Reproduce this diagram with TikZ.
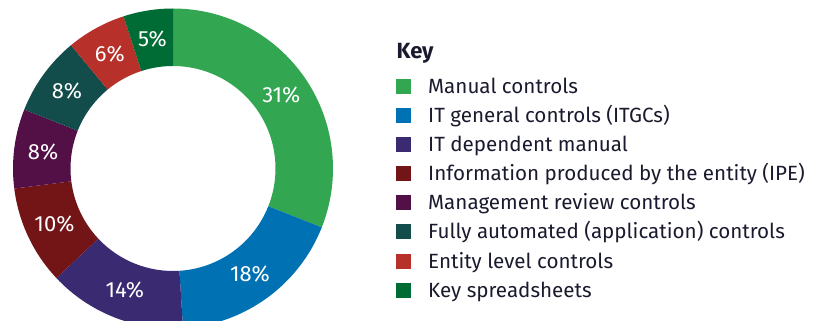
\documentclass[tikz,border=0pt]{standalone}
\usepackage{fontspec}
\setmainfont{Fira Sans}
\usepackage{tikz}
\usetikzlibrary{positioning}

\definecolor{manualc}{RGB}{51,166,82}
\definecolor{itgcc}{RGB}{0,113,179}
\definecolor{itdepc}{RGB}{58,42,114}
\definecolor{ipec}{RGB}{115,20,22}
\definecolor{mgmtc}{RGB}{82,16,71}
\definecolor{autoc}{RGB}{18,77,75}
\definecolor{entityc}{RGB}{184,48,42}
\definecolor{sheetc}{RGB}{0,108,53}
\definecolor{keytext}{RGB}{26,26,46}

\tikzset{
	pct/.style={text=white, inner sep=0pt, font=\fontsize{22}{22}\selectfont},
	keybox/.style={minimum size=15pt, inner sep=0pt},
	keytxt/.style={anchor=base west, inner sep=0pt, text=keytext, font=\fontsize{20.6}{21}\selectfont},
}

\begin{document}
\begin{tikzpicture}[x=1pt, y=1pt]
		\useasboundingbox (0, 0) rectangle (815, -321);
		% donut, clockwise from the top
		\begin{scope}[shift={(173, -168.5)}]
		\fill[manualc] (90:160) arc[start angle=90, end angle=-21.6, radius=160] -- (-21.6:102.5) arc[start angle=-21.6, end angle=90, radius=102.5] -- cycle;
		\fill[itgcc] (-21.6:160) arc[start angle=-21.6, end angle=-86.4, radius=160] -- (-86.4:102.5) arc[start angle=-86.4, end angle=-21.6, radius=102.5] -- cycle;
		\fill[itdepc] (-86.4:160) arc[start angle=-86.4, end angle=-136.8, radius=160] -- (-136.8:102.5) arc[start angle=-136.8, end angle=-86.4, radius=102.5] -- cycle;
		\fill[ipec] (-136.8:160) arc[start angle=-136.8, end angle=-172.8, radius=160] -- (-172.8:102.5) arc[start angle=-172.8, end angle=-136.8, radius=102.5] -- cycle;
		\fill[mgmtc] (-172.8:160) arc[start angle=-172.8, end angle=-201.6, radius=160] -- (-201.6:102.5) arc[start angle=-201.6, end angle=-172.8, radius=102.5] -- cycle;
		\fill[autoc] (-201.6:160) arc[start angle=-201.6, end angle=-230.4, radius=160] -- (-230.4:102.5) arc[start angle=-230.4, end angle=-201.6, radius=102.5] -- cycle;
		\fill[entityc] (-230.4:160) arc[start angle=-230.4, end angle=-252, radius=160] -- (-252:102.5) arc[start angle=-252, end angle=-230.4, radius=102.5] -- cycle;
		\fill[sheetc] (-252:160) arc[start angle=-252, end angle=-270, radius=160] -- (-270:102.5) arc[start angle=-270, end angle=-252, radius=102.5] -- cycle;
		\node[pct] (pmanual) at (34.2:131) {31\%};
		\node[pct] (pitgc) at (-54:131) {18\%};
		\node[pct] (pitdep) at (-111.6:131) {14\%};
		\node[pct] (pipe) at (-154.8:131) {10\%};
		\node[pct] (pmgmt) at (-187.2:131) {8\%};
		\node[pct] (pauto) at (-216:131) {8\%};
		\node[pct] (pentity) at (-241.2:131) {6\%};
		\node[pct] (psheet) at (-261:131) {5\%};
		\end{scope}
		% key
		\node[keytxt, font=\bfseries\fontsize{22}{22}\selectfont] (key) at (396.5, -58.5) {Key};
		\node[keybox, fill=manualc] (kmanual) at (403.5, -86.3) {};
		\node[keytxt] (tmanual) at (428, -93.3) {Manual controls};
		\node[keybox, fill=itgcc] (kitgc) at (403.5, -115.3) {};
		\node[keytxt] (titgc) at (428, -122.3) {IT general controls (ITGCs)};
		\node[keybox, fill=itdepc] (kitdep) at (403.5, -144.3) {};
		\node[keytxt] (titdep) at (428, -151.3) {IT dependent manual};
		\node[keybox, fill=ipec] (kipe) at (403.5, -173.5) {};
		\node[keytxt] (tipe) at (428, -180.5) {Information produced by the entity (IPE)};
		\node[keybox, fill=mgmtc] (kmgmt) at (403.5, -202.7) {};
		\node[keytxt] (tmgmt) at (428, -209.7) {Management review controls};
		\node[keybox, fill=autoc] (kauto) at (403.5, -231.9) {};
		\node[keytxt] (tauto) at (428, -238.9) {Fully automated (application) controls};
		\node[keybox, fill=entityc] (kentity) at (403.5, -261.1) {};
		\node[keytxt] (tentity) at (428, -268.1) {Entity level controls};
		\node[keybox, fill=sheetc] (ksheet) at (403.5, -290.3) {};
		\node[keytxt] (tsheet) at (428, -297.3) {Key spreadsheets};
\end{tikzpicture}
\end{document}
